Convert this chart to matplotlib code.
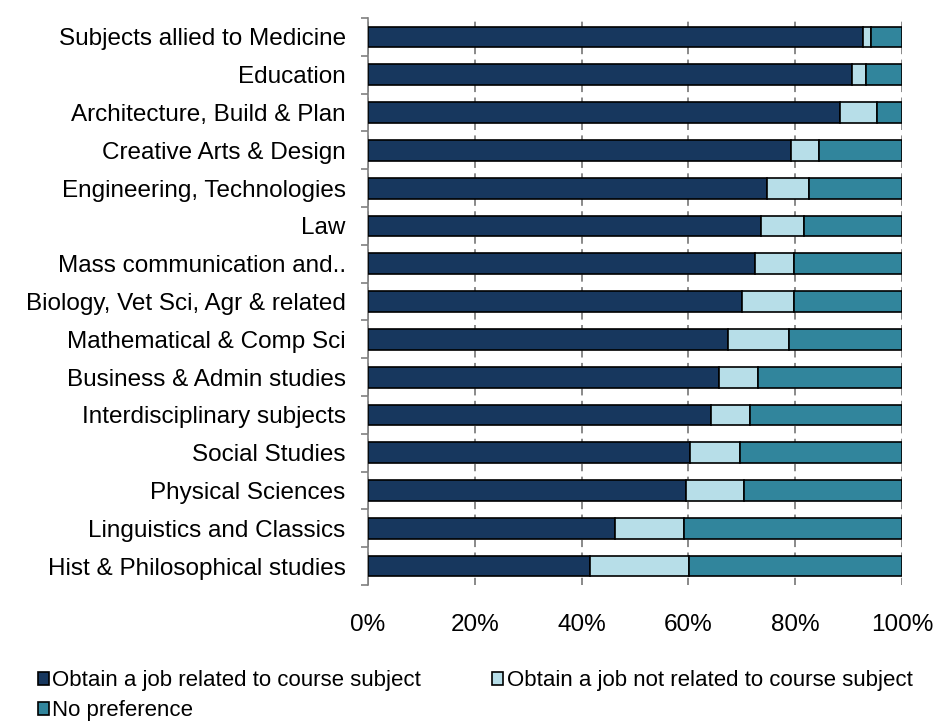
import numpy as np
import matplotlib.pyplot as plt

plt.rcParams['font.family'] = ['Liberation Sans', 'DejaVu Sans']

subjects = ['Subjects allied to Medicine', 'Education', 'Architecture, Build & Plan',
            'Creative Arts & Design', 'Engineering, Technologies', 'Law',
            'Mass communication and..', 'Biology, Vet Sci, Agr & related',
            'Mathematical & Comp Sci', 'Business & Admin studies',
            'Interdisciplinary subjects', 'Social Studies', 'Physical Sciences',
            'Linguistics and Classics', 'Hist & Philosophical studies']

related = [92.6, 90.6, 88.3, 79.3, 74.7, 73.5, 72.4, 70.1, 67.4, 65.8, 64.2, 60.3, 59.6, 46.3, 41.5]
not_related = [1.5, 2.7, 7.0, 5.1, 7.8, 8.2, 7.3, 9.6, 11.5, 7.3, 7.4, 9.3, 10.9, 12.9, 18.7]
no_pref = [100 - a - b for a, b in zip(related, not_related)]

series_names = ['Obtain a job related to course subject',
                'Obtain a job not related to course subject',
                'No preference']
colors = ['#17375E', '#B7DEE8', '#31859C']

fig = plt.figure(figsize=(9.37, 7.24), dpi=100)
ax = fig.add_axes([0.3927, 0.192, 0.57, 0.783])

y = np.arange(len(subjects))
left = np.zeros(len(subjects))
bars = []
for vals, name, c in zip([related, not_related, no_pref], series_names, colors):
    b = ax.barh(y, vals, left=left, height=0.55, color=c, edgecolor='black',
                linewidth=1.2, label=name, zorder=3)
    bars.append(b)
    left += np.array(vals)

ax.set_xlim(0, 100)
ax.set_ylim(len(subjects) - 0.5, -0.5)
ax.set_xticks([0, 20, 40, 60, 80, 100])
ax.set_xticklabels(['0%', '20%', '40%', '60%', '80%', '100%'], fontsize=17.5)
ax.set_yticks(y)
ax.set_yticklabels(subjects, fontsize=17.5)
ax.set_yticks(np.arange(len(subjects) + 1) - 0.5, minor=True)
ax.tick_params(axis='y', which='major', length=0, pad=16)
ax.tick_params(axis='y', which='minor', length=5, color='#808080', width=1.2)
ax.tick_params(axis='x', length=0, pad=21)

ax.grid(axis='x', color='#808080', linestyle=(0, (4, 3)), linewidth=1.3, zorder=0)
for s in ['top', 'right', 'bottom']:
    ax.spines[s].set_visible(False)
ax.spines['left'].set_color('#808080')
ax.spines['left'].set_linewidth(1.2)

# row-wise legend: related | not related, then no preference
handles = [bars[0], bars[2], bars[1]]
labels = [series_names[0], series_names[2], series_names[1]]
fig.legend(handles, labels, loc='lower left', bbox_to_anchor=(0.019, -0.024), ncol=2,
           frameon=False, fontsize=16, handlelength=0.5, handleheight=0.5,
           handletextpad=0.15, columnspacing=3.2, labelspacing=0.4)

fig.savefig('out.png', dpi=100)
